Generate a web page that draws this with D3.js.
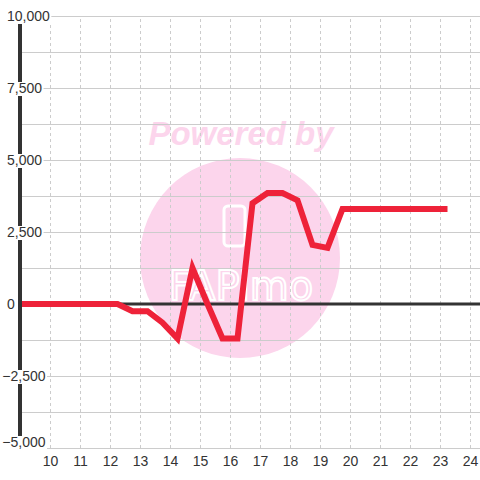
<!DOCTYPE html>
<html>
<head>
<meta charset="utf-8">
<script src="https://cdn.jsdelivr.net/npm/d3@7"></script>
<style>
  body { margin: 0; background: #fff; }
  text { font-family: "Liberation Sans", Arial, sans-serif; }
  .grid line { stroke: #cccccc; shape-rendering: crispEdges; }
  .xgrid line { stroke-dasharray: 3,3; }
  .lbl { font-size: 14px; fill: #333; }
</style>
</head>
<body>
<svg width="480" height="480"></svg>
<script>
// hour of day vs value
const hours  = [9, 12.25, 12.75, 13.25, 13.75, 14.25, 14.75, 15.25, 15.75, 16.25, 16.75, 17.25,
                17.75, 18.25, 18.75, 19.25, 19.75, 20.25, 20.75, 21.25, 21.75, 22.25, 22.75, 23.25];
const values = [0, 0, -250, -250, -650, -1200, 1250, 0, -1200, -1200, 3500, 3850,
                3850, 3600, 2050, 1950, 3300, 3300, 3300, 3300, 3300, 3300, 3300, 3300];
const xTicks = [10, 11, 12, 13, 14, 15, 16, 17, 18, 19, 20, 21, 22, 23, 24];
const yTicks = [-5000, -2500, 0, 2500, 5000, 7500, 10000];
const yGrid  = [-5000, -3750, -2500, -1250, 0, 1250, 2500, 3750, 5000, 6250, 7500, 8750, 10000];

const svg = d3.select("svg");
const x = d3.scaleLinear().domain([9, 24 + 1/3]).range([20, 480]);
const y = d3.scaleLinear().domain([-5000, 10000]).range([448, 16]);

// watermark
const wm = svg.append("g");
wm.append("circle").attr("cx", 240).attr("cy", 258).attr("r", 100).attr("fill", "#fcd5ec");
wm.append("text")
  .attr("x", 241).attr("y", 145)
  .attr("text-anchor", "middle")
  .style("font-size", "33px").style("font-weight", "bold").style("font-style", "italic")
  .attr("fill", "#fcd5ec")
  .text("Powered by");
wm.append("rect")
  .attr("x", 224).attr("y", 206).attr("width", 21).attr("height", 40).attr("rx", 4)
  .attr("fill", "none").attr("stroke", "#fff").attr("stroke-width", 3);
wm.append("text")
  .attr("x", 241).attr("y", 300)
  .attr("text-anchor", "middle")
  .style("font-family", "DejaVu Sans").style("font-size", "40px")
  .attr("fill", "none").attr("stroke", "#fff").attr("stroke-width", 2)
  .text("FAPimo");

// horizontal grid
svg.append("g").attr("class", "grid")
  .attr("transform", "translate(20,0)")
  .call(d3.axisRight(y).tickValues(yGrid).tickSize(460).tickFormat(""))
  .call(g => g.select(".domain").remove());

// vertical grid
svg.append("g").attr("class", "grid xgrid")
  .attr("transform", "translate(0,448)")
  .call(d3.axisBottom(x).tickValues(xTicks).tickSize(-432).tickFormat(""))
  .call(g => g.select(".domain").remove());

// zero line
svg.append("line")
  .attr("x1", x.range()[0]).attr("x2", x.range()[1])
  .attr("y1", y(0)).attr("y2", y(0))
  .attr("stroke", "#333").attr("stroke-width", 3);

// series
svg.append("path")
  .datum(hours.map((h, i) => [h, values[i]]))
  .attr("fill", "none")
  .attr("stroke", "#ee2239")
  .attr("stroke-width", 6)
  .attr("d", d3.line().x(d => x(d[0])).y(d => y(d[1])));

// y axis line
svg.append("line")
  .attr("x1", 20).attr("x2", 20)
  .attr("y1", y(10000)).attr("y2", y(-5000))
  .attr("stroke", "#333").attr("stroke-width", 4);

// x labels
svg.append("g")
  .attr("transform", "translate(0,448)")
  .call(d3.axisBottom(x).tickValues(xTicks).tickSize(0).tickPadding(8))
  .call(g => g.select(".domain").remove())
  .call(g => g.selectAll("text").attr("class", "lbl").attr("fill", null).style("font-family", null));

// y labels with white backing
const fmt = d3.format(",");
const tmp = svg.append("text").attr("class", "lbl").text("-");
const minusW = tmp.node().getComputedTextLength();
tmp.remove();

const yl = svg.append("g").selectAll("g").data(yTicks).join("g");
yl.each(function(v) {
  const g = d3.select(this);
  const base = Math.min(y(v) + 5, 447);
  const tx = v < 0 ? 7 - minusW : 7;
  const t = g.append("text").attr("class", "lbl").attr("x", tx).attr("y", base).text(fmt(v));
  const w = t.node().getComputedTextLength();
  g.insert("rect", "text")
    .attr("x", tx - 1.5).attr("y", base - 11)
    .attr("width", w + 3).attr("height", 14)
    .attr("fill", "#fff");
});
</script>
</body>
</html>
